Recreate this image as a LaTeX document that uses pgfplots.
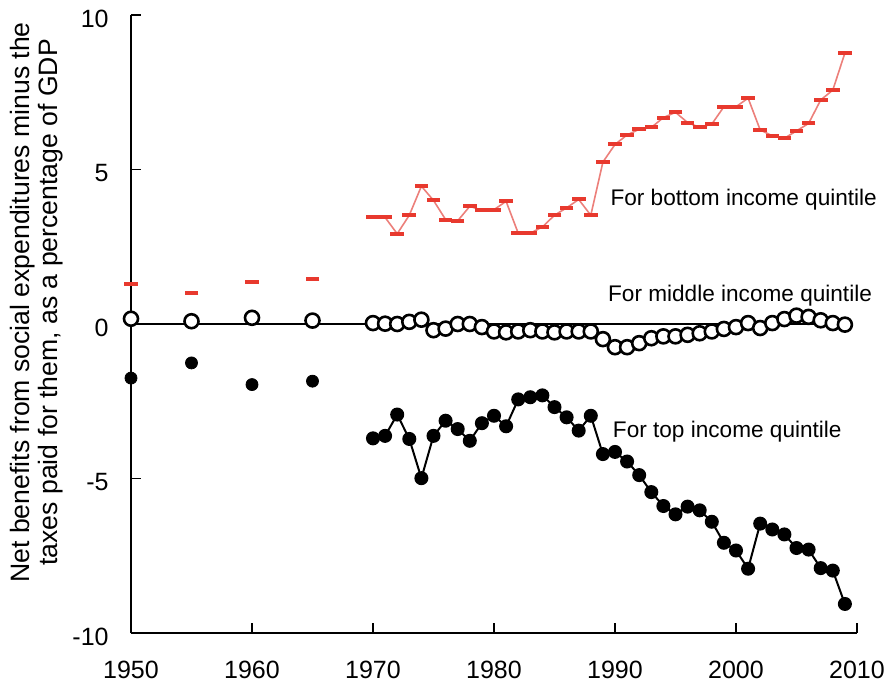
\documentclass[border=0pt]{standalone}
\usepackage{pgfplots}
\pgfplotsset{compat=1.18}
\usepackage{fontspec}
\setmainfont{Liberation Sans}
\definecolor{rred}{HTML}{E8392E}
\definecolor{rline}{HTML}{EC7F7A}

\begin{document}
\begin{tikzpicture}
\begin{axis}[
scale only axis,
width=363pt, height=309pt,
xmin=1950, xmax=2010, ymin=-10, ymax=10,
axis x line*=bottom, axis y line*=left,
axis line style={line width=0.9pt},
xtick={1950,1960,...,2010},
xticklabels={1950,1960,1970,1980,1990,2000,2010},
ytick={-10,-5,0,5,10},
yticklabels={-10,-5,0,5,10},
tick align=inside,
major tick length=5pt,
tick style={line width=0.8pt, black},
tick label style={font=\fontsize{12.5}{14}\selectfont, inner sep=1pt},
xticklabel style={yshift=-13pt},
yticklabel style={xshift=-10pt, yshift=-1.8pt},
ylabel={Net benefits from social expenditures minus the\\taxes paid for them, as a percentage of GDP},
ylabel style={at={(axis description cs:-0.091,0.535)}, anchor=south, align=center,
  inner sep=1pt, font=\fontsize{13.3}{13.8}\selectfont},
clip=false,
]
% zero line
\addplot[black, line width=0.8pt, mark=none] coordinates {(1950,0) (2009.6,0)};

% bottom quintile
\addplot[only marks, mark=-, mark size=3.4pt, mark options={rred, line width=2pt}]
coordinates {(1950,1.28) (1955,1.01) (1960,1.35) (1965,1.45)};
\addplot[rline, line width=0.8pt, mark=-, mark size=3.4pt, mark options={rred, line width=2pt}]
coordinates {
(1970,3.45) (1971,3.45) (1972,2.92) (1973,3.52) (1974,4.46) (1975,4.00)
(1976,3.38) (1977,3.34) (1978,3.81) (1979,3.68) (1980,3.70) (1981,3.97)
(1982,2.94) (1983,2.94) (1984,3.14) (1985,3.52) (1986,3.76) (1987,4.03)
(1988,3.52) (1989,5.24) (1990,5.81) (1991,6.12) (1992,6.30) (1993,6.36)
(1994,6.68) (1995,6.85) (1996,6.52) (1997,6.36) (1998,6.47) (1999,7.03)
(2000,7.03) (2001,7.31) (2002,6.28) (2003,6.09) (2004,6.01) (2005,6.25)
(2006,6.49) (2007,7.25) (2008,7.57) (2009,8.77)};

% middle quintile
\addplot[only marks, mark=*, mark size=3.5pt, mark options={fill=white, draw=black, line width=1.3pt}]
coordinates {(1950,0.17) (1955,0.09) (1960,0.20) (1965,0.11)
(1970,0.03) (1971,0.01) (1972,0.00) (1973,0.07) (1974,0.14) (1975,-0.20)
(1976,-0.15) (1977,0.00) (1978,0.00) (1979,-0.10) (1980,-0.24) (1981,-0.27)
(1982,-0.24) (1983,-0.20) (1984,-0.24) (1985,-0.27) (1986,-0.24) (1987,-0.24)
(1988,-0.24) (1989,-0.49) (1990,-0.75) (1991,-0.75) (1992,-0.62) (1993,-0.46)
(1994,-0.40) (1995,-0.40) (1996,-0.35) (1997,-0.30) (1998,-0.24) (1999,-0.16)
(2000,-0.10) (2001,0.03) (2002,-0.13) (2003,0.03) (2004,0.16) (2005,0.27)
(2006,0.23) (2007,0.12) (2008,0.03) (2009,-0.02)};

% top quintile
\addplot[only marks, mark=*, mark size=3pt, mark options={fill=black, draw=black}]
coordinates {(1950,-1.75) (1955,-1.26) (1960,-1.96) (1965,-1.85)};
\addplot[black, line width=1pt, mark=*, mark size=3pt, mark options={fill=black}]
coordinates {
(1970,-3.70) (1971,-3.62) (1972,-2.93) (1973,-3.72) (1974,-4.99) (1975,-3.62)
(1976,-3.13) (1977,-3.40) (1978,-3.78) (1979,-3.21) (1980,-2.97) (1981,-3.31)
(1982,-2.44) (1983,-2.37) (1984,-2.31) (1985,-2.69) (1986,-3.02) (1987,-3.45)
(1988,-2.97) (1989,-4.21) (1990,-4.14) (1991,-4.45) (1992,-4.89) (1993,-5.44)
(1994,-5.89) (1995,-6.16) (1996,-5.91) (1997,-6.03) (1998,-6.40) (1999,-7.08)
(2000,-7.33) (2001,-7.92) (2002,-6.46) (2003,-6.65) (2004,-6.81) (2005,-7.25)
(2006,-7.30) (2007,-7.90) (2008,-7.98) (2009,-9.06)};

\node[anchor=west, font=\fontsize{11.3}{13}\selectfont, inner sep=0pt] at (axis cs:1989.6,4.01) {For bottom income quintile};
\node[anchor=west, font=\fontsize{11.3}{13}\selectfont, inner sep=0pt] at (axis cs:1989.4,0.91) {For middle income quintile};
\node[anchor=west, font=\fontsize{11.3}{13}\selectfont, inner sep=0pt] at (axis cs:1989.8,-3.5) {For top income quintile};

\coordinate (tl) at (rel axis cs:0,1);
\coordinate (br) at (rel axis cs:1,0);
\end{axis}
% page margins as in the original figure
\path ([xshift=-65.5pt,yshift=7.5pt]tl) ([xshift=16.5pt,yshift=-27pt]br);
\end{tikzpicture}
\end{document}
